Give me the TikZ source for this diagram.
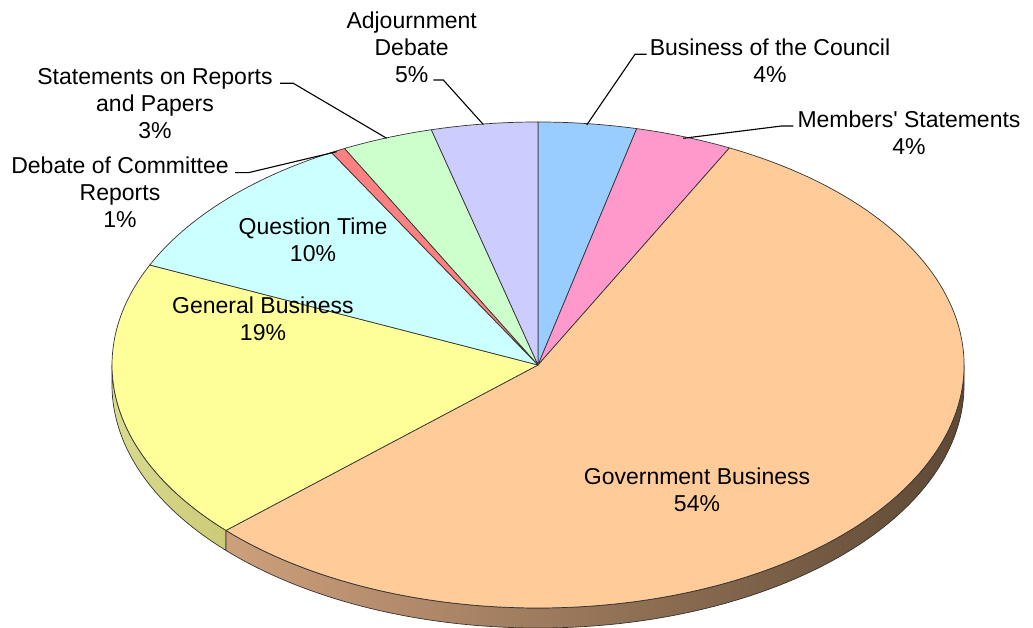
\documentclass[tikz,border=0pt]{standalone}
\usepackage{fontspec}
\setmainfont{Liberation Sans}[Ligatures=TeXOff]
\newcommand\lstr{\rule[-5.3pt]{0pt}{27pt}}
\definecolor{cCouncil}{HTML}{99CCFF}
\definecolor{cMembers}{HTML}{FF99CC}
\definecolor{cGov}{HTML}{FFCC99}
\definecolor{cGen}{HTML}{FFFF99}
\definecolor{cQuest}{HTML}{CCFFFF}
\definecolor{cComm}{HTML}{FF8080}
\definecolor{cStat}{HTML}{CCFFCC}
\definecolor{cAdj}{HTML}{CCCCFF}
\definecolor{edge}{HTML}{333333}
\definecolor{genSideL}{HTML}{DADA90}
\definecolor{genSideR}{HTML}{CBCB76}
\definecolor{govSideL}{HTML}{CDA07C}
\definecolor{govSideM}{HTML}{A3835F}
\definecolor{govSideR}{HTML}{5E4935}
\begin{document}
\begin{tikzpicture}[x=1pt,y=1pt,
  lbl/.style={font=\fontsize{23}{27}\selectfont, align=center, inner sep=0pt},
  slice/.style={draw=edge, line width=0.7pt, line join=round},
  leader/.style={draw=black, line width=1.1pt}]
\useasboundingbox (0,0) rectangle (1033,628);
\coordinate (C) at (538,263);
\def\RX{426pt}\def\RY{243pt}
% ---- sides ----
\path[left color=genSideL, right color=genSideR, draw=edge, line width=0.7pt]
  ([shift={(538,263)}]-180:426 and 243) arc[start angle=-180, end angle=-137.1, x radius=\RX, y radius=\RY]
  -- ++(0,-20) arc[start angle=-137.1, end angle=-180, x radius=\RX, y radius=\RY] -- cycle;
\path[left color=govSideL, middle color=govSideM, right color=govSideR, draw=edge, line width=0.7pt]
  ([shift={(538,263)}]-137.1:426 and 243) arc[start angle=-137.1, end angle=0, x radius=\RX, y radius=\RY]
  -- ++(0,-20) arc[start angle=0, end angle=-137.1, x radius=\RX, y radius=\RY] -- cycle;
% ---- top slices ----
\foreach \a/\b/\c in {90/76.6/cCouncil, 76.6/63.3/cMembers, 63.3/-137.1/cGov,
    -137.1/-204.3/cGen, 155.7/119/cQuest, 119/117/cComm, 117/104.5/cStat, 104.5/90/cAdj}{
  \path[slice, fill=\c] (C) -- ([shift={(538,263)}]\a:426 and 243)
    arc[start angle=\a, end angle=\b, x radius=\RX, y radius=\RY] -- cycle;
}
% ---- labels ----
\node[lbl] (adj)  at (411.7,581)   {\lstr Adjournment\\\lstr Debate\\\lstr 5\%};
\node[lbl] (stat) at (155,524.3)   {\lstr Statements on Reports\\\lstr and Papers\\\lstr 3\%};
\node[lbl] (comm) at (120,435.2)   {\lstr Debate of Committee\\\lstr Reports\\\lstr 1\%};
\node[lbl] (ques) at (313,388)     {\lstr Question Time\\\lstr 10\%};
\node[lbl] (gen)  at (263,309.3)   {\lstr General Business\\\lstr 19\%};
\node[lbl] (coun) at (770,567.2)   {\lstr Business of the Council\\\lstr 4\%};
\node[lbl] (memb) at (909,495.5)   {\lstr Members' Statements\\\lstr 4\%};
\node[lbl] (gov)  at (697,137.7)   {\lstr Government Business\\\lstr 54\%};
% ---- leader lines ----
\coordinate (adjA) at (433.3,548); \coordinate (adjB) at (443.3,548); \coordinate (adjE) at (483.3,503.5);
\coordinate (statA) at (280,544.7); \coordinate (statB) at (293.3,544.7); \coordinate (statE) at (386.7,489.7);
\coordinate (commA) at (235,455.3); \coordinate (commB) at (248.3,455.3); \coordinate (commE) at (336.7,476.3);
\coordinate (counA) at (646.7,573.7); \coordinate (counB) at (635,573.7); \coordinate (counE) at (586.7,503);
\coordinate (membA) at (793.3,502); \coordinate (membB) at (781.7,502); \coordinate (membE) at (683.3,489.7);
\draw[leader] (adjA) -- (adjB) -- (adjE);
\draw[leader] (statA) -- (statB) -- (statE);
\draw[leader] (commA) -- (commB) -- (commE);
\draw[leader] (counA) -- (counB) -- (counE);
\draw[leader] (membA) -- (membB) -- (membE);
\end{tikzpicture}
\end{document}
